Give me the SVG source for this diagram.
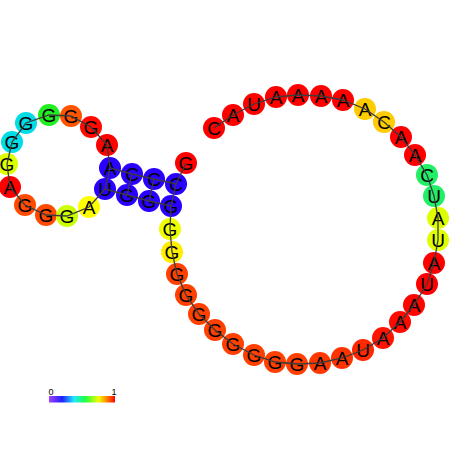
<svg xmlns="http://www.w3.org/2000/svg" width="452" height="452" viewBox="0 0 452 452">
<style>
.n circle{stroke:none}
.n text{font-family:"Liberation Sans",Arial,sans-serif;font-size:19px;fill:#000;text-anchor:middle;dominant-baseline:central}
#links line{stroke:#3c3c3c;stroke-width:1.3}
.leg{font-family:"Liberation Sans",Arial,sans-serif;font-size:9px;fill:#000;text-anchor:middle}
</style>
<defs>
<linearGradient id="rb" x1="0" y1="0" x2="1" y2="0">
<stop offset="0" stop-color="#a040ff"/>
<stop offset="0.2" stop-color="#2020ff"/>
<stop offset="0.38" stop-color="#20e8ff"/>
<stop offset="0.55" stop-color="#20ff40"/>
<stop offset="0.75" stop-color="#f0ff00"/>
<stop offset="0.88" stop-color="#ff8000"/>
<stop offset="1" stop-color="#ff0000"/>
</linearGradient>
</defs>
<rect width="452" height="452" fill="#fff"/>
<g id="nodes">
<g id="n1" class="n"><circle cx="186" cy="163" r="11" fill="#ff0000"/><text x="186" y="163">G</text></g>
<g id="n2" class="n"><circle cx="176" cy="184" r="11" fill="#2a00ff"/><text x="176" y="184">C</text></g>
<g id="n3" class="n"><circle cx="154" cy="179" r="11" fill="#2a00ff"/><text x="154" y="179">C</text></g>
<g id="n4" class="n"><circle cx="132" cy="174" r="11" fill="#2a00ff"/><text x="132" y="174">C</text></g>
<g id="n5" class="n"><circle cx="110" cy="168" r="11" fill="#2a00ff"/><text x="110" y="168">A</text></g>
<g id="n6" class="n"><circle cx="107" cy="145" r="11" fill="#ff0000"/><text x="107" y="145">A</text></g>
<g id="n7" class="n"><circle cx="91" cy="127" r="11" fill="#ff0a00"/><text x="91" y="127">G</text></g>
<g id="n8" class="n"><circle cx="71" cy="116" r="11" fill="#ff5500"/><text x="71" y="116">G</text></g>
<g id="n9" class="n"><circle cx="49" cy="115" r="11" fill="#22ee22"/><text x="49" y="115">G</text></g>
<g id="n10" class="n"><circle cx="26" cy="123" r="11" fill="#00dde6"/><text x="26" y="123">G</text></g>
<g id="n11" class="n"><circle cx="12" cy="142" r="11" fill="#00dde6"/><text x="12" y="142">G</text></g>
<g id="n12" class="n"><circle cx="7" cy="164" r="11" fill="#ddff00"/><text x="7" y="164">G</text></g>
<g id="n13" class="n"><circle cx="10" cy="187" r="11" fill="#ff0000"/><text x="10" y="187">A</text></g>
<g id="n14" class="n"><circle cx="25" cy="205" r="11" fill="#ff4a00"/><text x="25" y="205">G</text></g>
<g id="n15" class="n"><circle cx="46" cy="215" r="11" fill="#ff4a00"/><text x="46" y="215">G</text></g>
<g id="n16" class="n"><circle cx="67" cy="216" r="11" fill="#ccff00"/><text x="67" y="216">G</text></g>
<g id="n17" class="n"><circle cx="89" cy="207" r="11" fill="#ffff00"/><text x="89" y="207">A</text></g>
<g id="n18" class="n"><circle cx="105" cy="189" r="11" fill="#2a00ff"/><text x="105" y="189">U</text></g>
<g id="n19" class="n"><circle cx="127" cy="195" r="11" fill="#2a00ff"/><text x="127" y="195">G</text></g>
<g id="n20" class="n"><circle cx="149" cy="201" r="11" fill="#2a00ff"/><text x="149" y="201">G</text></g>
<g id="n21" class="n"><circle cx="171" cy="206" r="11" fill="#2a00ff"/><text x="171" y="206">G</text></g>
<g id="n22" class="n"><circle cx="170" cy="229" r="11" fill="#eeff00"/><text x="170" y="229">G</text></g>
<g id="n23" class="n"><circle cx="172" cy="252" r="11" fill="#ffee00"/><text x="172" y="252">G</text></g>
<g id="n24" class="n"><circle cx="177" cy="274" r="11" fill="#ff4000"/><text x="177" y="274">G</text></g>
<g id="n25" class="n"><circle cx="186" cy="295" r="11" fill="#ff4000"/><text x="186" y="295">G</text></g>
<g id="n26" class="n"><circle cx="199" cy="314" r="11" fill="#ff4000"/><text x="199" y="314">G</text></g>
<g id="n27" class="n"><circle cx="215" cy="330" r="11" fill="#ff4000"/><text x="215" y="330">G</text></g>
<g id="n28" class="n"><circle cx="233" cy="344" r="11" fill="#ff4000"/><text x="233" y="344">G</text></g>
<g id="n29" class="n"><circle cx="254" cy="355" r="11" fill="#ff4000"/><text x="254" y="355">G</text></g>
<g id="n30" class="n"><circle cx="275" cy="362" r="11" fill="#ff4000"/><text x="275" y="362">G</text></g>
<g id="n31" class="n"><circle cx="297" cy="364" r="11" fill="#ff4000"/><text x="297" y="364">G</text></g>
<g id="n32" class="n"><circle cx="320" cy="363" r="11" fill="#ff3800"/><text x="320" y="363">A</text></g>
<g id="n33" class="n"><circle cx="342" cy="358" r="11" fill="#ff3300"/><text x="342" y="358">A</text></g>
<g id="n34" class="n"><circle cx="363" cy="350" r="11" fill="#ff2800"/><text x="363" y="350">U</text></g>
<g id="n35" class="n"><circle cx="383" cy="338" r="11" fill="#ff1400"/><text x="383" y="338">A</text></g>
<g id="n36" class="n"><circle cx="400" cy="322" r="11" fill="#ff0a00"/><text x="400" y="322">A</text></g>
<g id="n37" class="n"><circle cx="414" cy="305" r="11" fill="#ff0500"/><text x="414" y="305">A</text></g>
<g id="n38" class="n"><circle cx="427" cy="284" r="11" fill="#ff0000"/><text x="427" y="284">U</text></g>
<g id="n39" class="n"><circle cx="434" cy="263" r="11" fill="#ff0000"/><text x="434" y="263">A</text></g>
<g id="n40" class="n"><circle cx="438" cy="240" r="11" fill="#ddff00"/><text x="438" y="240">U</text></g>
<g id="n41" class="n"><circle cx="438" cy="218" r="11" fill="#ddff00"/><text x="438" y="218">A</text></g>
<g id="n42" class="n"><circle cx="434" cy="196" r="11" fill="#22ee66"/><text x="434" y="196">U</text></g>
<g id="n43" class="n"><circle cx="427" cy="175" r="11" fill="#22ee66"/><text x="427" y="175">C</text></g>
<g id="n44" class="n"><circle cx="415" cy="155" r="11" fill="#ff0000"/><text x="415" y="155">A</text></g>
<g id="n45" class="n"><circle cx="401" cy="137" r="11" fill="#ff0000"/><text x="401" y="137">A</text></g>
<g id="n46" class="n"><circle cx="384" cy="122" r="11" fill="#ffcc00"/><text x="384" y="122">C</text></g>
<g id="n47" class="n"><circle cx="365" cy="109" r="11" fill="#ffcc00"/><text x="365" y="109">A</text></g>
<g id="n48" class="n"><circle cx="343" cy="100" r="11" fill="#ff0000"/><text x="343" y="100">A</text></g>
<g id="n49" class="n"><circle cx="321" cy="96" r="11" fill="#ff0000"/><text x="321" y="96">A</text></g>
<g id="n50" class="n"><circle cx="298" cy="95" r="11" fill="#ff0000"/><text x="298" y="95">A</text></g>
<g id="n51" class="n"><circle cx="276" cy="97" r="11" fill="#ff0000"/><text x="276" y="97">A</text></g>
<g id="n52" class="n"><circle cx="254" cy="104" r="11" fill="#ff0000"/><text x="254" y="104">U</text></g>
<g id="n53" class="n"><circle cx="233" cy="115" r="11" fill="#ff0000"/><text x="233" y="115">A</text></g>
<g id="n54" class="n"><circle cx="214" cy="128" r="11" fill="#ff0000"/><text x="214" y="128">C</text></g>
</g>
<g id="links">
<polyline fill="none" stroke="#3c3c3c" stroke-width="1.3" points="186,163 176,184 154,179 132,174 110,168 107,145 91,127 71,116 49,115 26,123 12,142 7,164 10,187 25,205 46,215 67,216 89,207 105,189 127,195 149,201 171,206 170,229 172,252 177,274 186,295 199,314 215,330 233,344 254,355 275,362 297,364 320,363 342,358 363,350 383,338 400,322 414,305 427,284 434,263 438,240 438,218 434,196 427,175 415,155 401,137 384,122 365,109 343,100 321,96 298,95 276,97 254,104 233,115 214,128"/>
<line x1="176" y1="184" x2="171" y2="206"/>
<line x1="154" y1="179" x2="149" y2="201"/>
<line x1="132" y1="174" x2="127" y2="195"/>
<line x1="110" y1="168" x2="105" y2="189"/>
</g>
<g id="legend">
<rect x="49" y="396" width="66" height="6.5" fill="url(#rb)"/>
<text class="leg" x="51" y="395">0</text>
<text class="leg" x="114" y="395">1</text>
</g>
</svg>
